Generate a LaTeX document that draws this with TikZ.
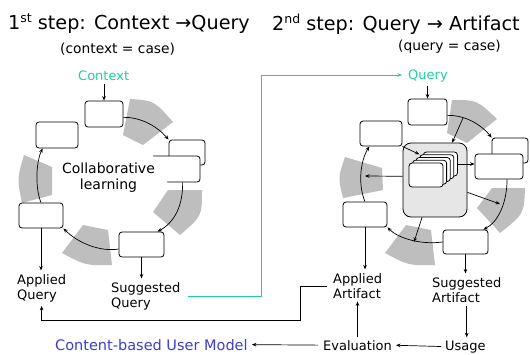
\documentclass[tikz,border=0pt]{standalone}
\usepackage{fontspec}
\setmainfont{DejaVu Sans}
\usetikzlibrary{arrows.meta,calc}
\definecolor{mint}{RGB}{25,210,160}
\definecolor{modelblue}{RGB}{60,60,210}
\definecolor{ring}{RGB}{190,190,190}
\definecolor{panel}{RGB}{230,230,230}
\newcommand{\ordsup}[1]{\raisebox{6.5pt}{\fontsize{12.5}{12.5}\selectfont #1}}

\begin{document}
\begin{tikzpicture}[x=1pt,y=-1pt,
  every node/.style={inner sep=0pt},
  box/.style n args={2}{draw, fill=white, rounded corners=3pt, line width=0.8pt,
    minimum width=#1pt, minimum height=#2pt},
  card/.style={box={34}{24}},
  arr/.style={-{Stealth[length=4.5pt,width=3.6pt]}, line width=0.7pt},
  lbl/.style={font=\fontsize{13}{14.5}\selectfont, align=left, anchor=base west},
  ttl/.style={font=\fontsize{19.2}{22}\selectfont, anchor=base west},
  sub/.style={font=\fontsize{13.8}{15}\selectfont, anchor=base west},
  seg/.style={fill=ring}]

\useasboundingbox (0,0) rectangle (530,354);

% ---------- ring segments, first cycle ----------
\fill[seg] (130,99) .. controls (154,100.5) .. (173,122) -- (143,145) -- (123,135) -- cycle;
\fill[seg] (168,190) -- (202,190) .. controls (202,216) .. (180,235) -- (153,212) -- cycle;
\fill[seg] (83,225) -- (108,230) -- (112,265) .. controls (85.5,265.5) .. (62,253) -- cycle;
\fill[seg] (24,155) .. controls (17,179) .. (22,203) -- (52,195) -- (52,167) -- cycle;

% ---------- ring segments, second cycle ----------
\fill[seg] (452,100) .. controls (477,100) .. (497,119) -- (467,143) -- (447,133) -- cycle;
\fill[seg] (492,188) -- (525,188) .. controls (524,214) .. (500,233) -- (477,208) -- cycle;
\fill[seg] (406,225) -- (431,230) -- (435,265) .. controls (408.5,265.5) .. (385,253) -- cycle;
\fill[seg] (345,157) .. controls (338,177.5) .. (343,198) -- (383,190) -- (382,168) -- cycle;

% ---------- titles ----------
\node[ttl] (t1) at (8,29) {1\ordsup{st} step: Context →Query};
\node[sub] (s1) at (60,53) {(context = case)};
\node[ttl] (t2) at (272,30) {2\ordsup{nd} step: Query → Artifact};
\node[sub] (s2) at (398,50) {(query = case)};

% ---------- first cycle ----------
\node[box={38}{26}] (L1) at (104,114) {};
\node[box={42}{26}] (L2) at (57,135) {};
\node[box={36}{25}] (L3b) at (187,152.5) {};
\node[box={50}{26}] (L3) at (175,169) {};
\fill[white] (149,152) -- (150.8,152) -- (169.2,186) -- (149,186) -- cycle;
\node[box={45}{25}] (L4) at (141.5,244.5) {};
\node[box={44}{25}] (L5) at (41,215.5) {};
\node[font=\fontsize{14}{15.5}\selectfont, align=center] (collab) at (108.5,177.5) {Collaborative\\learning};

\node[lbl, text=mint] (ctx) at (78,80) {Context};
\draw[arr, shorten <=4pt] (L1.north |- ctx.south) -- (L1.north);

\draw[arr] ($(L1.east)!0.25!(L1.south east)$) .. controls (138,117) and (155,124) .. (L3b.north west);
\draw[arr] ($(L3.south)!0.3!(L3.south east)$) .. controls (183,205) and (175,222) .. ($(L4.north)!0.7!(L4.north east)$);
\draw[arr] ($(L4.west)!0.35!(L4.south west)$) .. controls (100,252) and (78,243) .. (L5.south east);
\draw[arr] (L5.north) .. controls (35,188) and (36,162) .. ($(L2.south west)!0.33!(L2.south)$);

% two-line labels are placed by the baseline of their last line
\node[lbl] (aq) at (17,299) {Applied\\Query};
\node[lbl] (sq) at (111,307) {Suggested\\Query};
\draw[arr, shorten >=4pt] (L5.south) -- (L5.south |- aq.north);
\draw[arr, shorten >=4pt] (L4.south) -- (L4.south |- sq.north);

% ---------- second cycle ----------
\node[box={39}{26}] (R1) at (427.5,112) {};
\node[box={42}{25}] (R2) at (381,133.5) {};
\node[box={36}{25}] (R3b) at (510,150.5) {};
\node[box={48}{25}] (R3) at (499,166.5) {};
\node[box={45}{24}] (R4) at (465.5,242) {};
\node[box={44}{25}] (R5) at (365,214.5) {};
\node[draw, fill=panel, rounded corners=8pt, line width=0.8pt,
      minimum width=64pt, minimum height=74pt] (cont) at (435,180) {};
\foreach \k in {4,3,2,1,0}
  \node[card] (c\k) at ({426+3.6*\k},{175-2.75*\k}) {};

\node[lbl, text=mint] (qry) at (408,79) {Query};
\draw[arr, shorten <=4pt] (R1.north |- qry.south) -- (R1.north);

\coordinate (rtop) at (463,118);
\coordinate (cw) at (365,176);
\coordinate (cr) at (500,204);
\coordinate (cb) at (414,242);

\draw[arr] ($(R1.east)!0.25!(R1.south east)$) .. controls (462,115) and (479,122) .. (R3b.north west);
\draw[arr] (rtop) -- ($(cont.north)!0.53!(cont.north east)$);
\draw[arr] (R2.south east) -- (c3.north west);
\draw[arr] (c4.east) -- (c4.east -| R3.west);
\draw[arr] ($(cont.west)!0.1!(cont.north west)$) -- (cw);
\draw[arr] ($(cont.east)!0.33!(cont.south east)$) -- (cr);
\draw[arr] ($(cont.south west)!0.6!(cont.south)$) -- (cb);
\draw[arr] ($(R3.south)!0.33!(R3.south east)$) .. controls (507,203) and (498,222) .. ($(R4.north)!0.78!(R4.north east)$);
\draw[arr] (R4.west) .. controls (420,245) and (398,238) .. (R5.south east);
\draw[arr] (R5.north) .. controls (358,185) and (360,162) .. ($(R2.south west)!0.45!(R2.south)$);

\node[lbl] (aa) at (333,298) {Applied\\Artifact};
\node[lbl] (sa) at (432,302) {Suggested\\Artifact};
\node[lbl] (us) at (445,350) {Usage};
\node[lbl] (ev) at (323,350) {Evaluation};
\node[lbl, font=\fontsize{14.5}{16}\selectfont, text=modelblue] (cum) at (55,350) {Content-based User Model};

\draw[arr, shorten >=4pt] (R5.south) -- (R5.south |- aa.north);
\draw[arr, shorten >=4pt] (R4.south) -- (R4.south |- sa.north);
\draw[arr, shorten <=4pt, shorten >=3pt] (sa.south) -- (sa.south |- us.north);
\draw[arr, shorten <=4pt, shorten >=4pt] (us.west) -- (ev.east);
\draw[arr, shorten <=3pt, shorten >=3pt] (ev.north) -- (ev.north |- aa.south);
\draw[arr, shorten <=5pt, shorten >=4pt] (ev.west) -- (cum.east);

% ---------- feedback lines ----------
\draw[arr, shorten >=4pt] ([xshift=-6pt]aa.west) -- ++(-27,0) -- ++(0,34) -| (aq.south);
\coordinate (gturn) at (261,75);
\draw[arr, draw=mint, line width=0.8pt, shorten >=6pt] ([xshift=7pt]sq.east) -| (gturn) -- (gturn -| qry.west);
\end{tikzpicture}
\end{document}
